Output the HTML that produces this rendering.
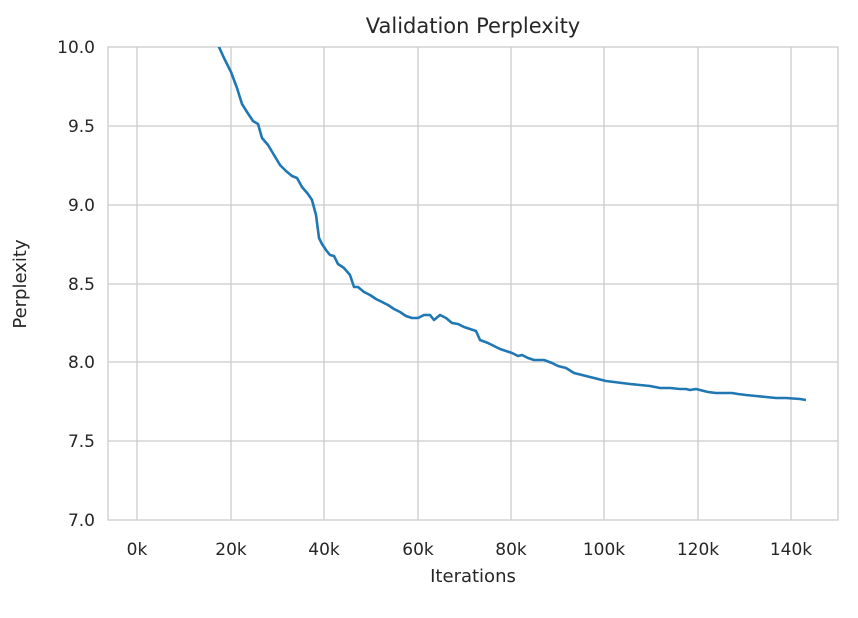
<!DOCTYPE html>
<html><head><meta charset="utf-8"><style>
body{margin:0;background:#fff;}
text{font-family:"DejaVu Sans","Liberation Sans",sans-serif;fill:#262626;}
</style></head><body>
<svg width="858" height="613" viewBox="0 0 858 613" xmlns="http://www.w3.org/2000/svg">
<rect width="858" height="613" fill="#fff"/>
<g stroke="#cccccc" stroke-width="1.3">
<line x1="137" y1="47" x2="137" y2="520"/><line x1="231" y1="47" x2="231" y2="520"/>
<line x1="324" y1="47" x2="324" y2="520"/><line x1="418" y1="47" x2="418" y2="520"/>
<line x1="511" y1="47" x2="511" y2="520"/><line x1="604" y1="47" x2="604" y2="520"/>
<line x1="698" y1="47" x2="698" y2="520"/><line x1="791" y1="47" x2="791" y2="520"/>
<line x1="108" y1="126" x2="838" y2="126"/><line x1="108" y1="205" x2="838" y2="205"/>
<line x1="108" y1="284" x2="838" y2="284"/><line x1="108" y1="362" x2="838" y2="362"/>
<line x1="108" y1="441" x2="838" y2="441"/>
<rect x="108" y="47" width="730" height="473" fill="none"/>
</g>
<clipPath id="c"><rect x="108" y="47" width="730" height="473"/></clipPath>
<polyline clip-path="url(#c)" fill="none" stroke="#1f77b4" stroke-width="2.6" stroke-linejoin="round" points="217,40 219,47 224,58 231,72 237,88 242,104 247,112 253,121 258,124 262,138 268,145 274,155 280,165 286,171 292,176 297,178 302,187 308,194 312,200 316,215 319,238 322,244 326,250 330,255 334,256 338,264 344,268 350,275 354,287 358,287 364,292 370,295 376,299 382,302 388,305 394,309 400,312 406,316 412,318 418,318 424,315 430,315 434,320 440,315 446,318 452,323 458,324 464,327 470,329 476,331 480,340 488,343 494,346 500,349 506,351 512,353 518,356 522,355 528,358 534,360 544,360 552,363 558,366 566,368 574,373 582,375 590,377 598,379 606,381 614,382 622,383 630,384 640,385 650,386 660,388 670,388 680,389 686,389 690,390 696,389 700,390 708,392 716,393 724,393 732,393 738,394 746,395 756,396 766,397 776,398 786,398 800,399 806,400"/>
<g font-size="17" text-anchor="middle">
<text x="137" y="555">0k</text><text x="231" y="555">20k</text><text x="324" y="555">40k</text>
<text x="418" y="555">60k</text><text x="511" y="555">80k</text><text x="604" y="555">100k</text>
<text x="698" y="555">120k</text><text x="791" y="555">140k</text>
</g>
<g font-size="17" text-anchor="end">
<text x="95" y="53">10.0</text><text x="95" y="132">9.5</text><text x="95" y="211">9.0</text>
<text x="95" y="290">8.5</text><text x="95" y="368">8.0</text><text x="95" y="447">7.5</text>
<text x="95" y="526">7.0</text>
</g>
<text x="473" y="582" font-size="18" text-anchor="middle">Iterations</text>
<text x="26" y="284" font-size="18" text-anchor="middle" transform="rotate(-90 26 284)">Perplexity</text>
<text x="473" y="33" font-size="21" text-anchor="middle">Validation Perplexity</text>
</svg>
</body></html>
